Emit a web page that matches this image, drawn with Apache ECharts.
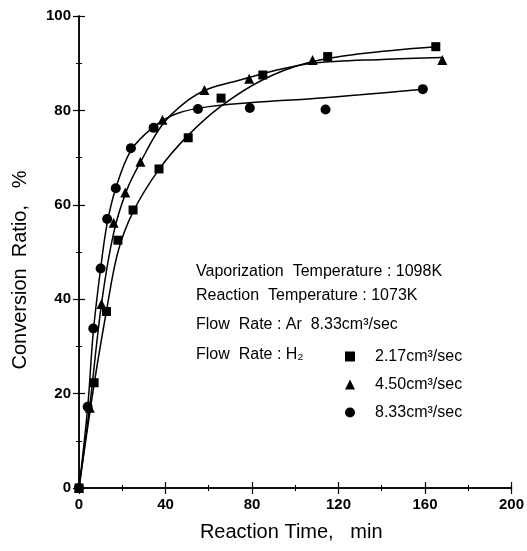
<!DOCTYPE html>
<html>
<head>
<meta charset="utf-8">
<script src="https://cdn.jsdelivr.net/npm/echarts@6/dist/echarts.min.js"></script>
<style>
	html, body { margin: 0; padding: 0; background: #fff; }
	#chart { width: 527px; height: 551px; }
</style>
</head>
<body>
<div id="chart"></div>
<script>
// measured points, [time min, conversion %]
var square_pts = [[0, 0], [7, 22.3], [12.7, 37.4], [18, 52.5], [25, 58.9], [37, 67.6], [50.5, 74.2], [65.7, 82.6], [85, 87.5], [115, 91.4], [165, 93.5]]
var triangle_pts = [[0, 0], [5, 17], [10.4, 39], [16, 56.2], [21.4, 62.6], [28.4, 69.1], [38.6, 78], [58, 84.3], [78.7, 86.7], [108, 90.7], [168, 90.7]]
var circle_pts = [[0, 0], [4, 17.2], [6.6, 33.8], [10, 46.5], [13, 57], [17, 63.5], [24, 72], [34.5, 76.3], [55, 80.3], [79, 80.5], [114, 80.2], [159, 84.5]]

// fitted curves
var square_fit = [[0, 0], [7, 22], [12.7, 37.5], [18, 50], [25, 58.5], [37, 67.5], [50, 74.5], [66, 81], [85, 86.5], [105, 90], [130, 92], [165, 93.5]]
var triangle_fit = [[0, 0], [5, 17.5], [10.4, 39], [16, 54], [22, 63], [28.4, 69], [38.6, 77], [50, 82], [60, 84.6], [75, 86.5], [92, 88.6], [108, 90], [140, 90.8], [168, 91.2]]
var circle_fit = [[0, 0], [4, 17], [6.6, 33], [10, 46.5], [13, 56], [17, 63.5], [24, 71.5], [34.5, 76.5], [45, 79.3], [60, 80.8], [90, 82], [106, 82.4], [130, 83.3], [159, 84.5]]

var x_ticks = [0, 40, 80, 120, 160, 200]
var y_ticks = [0, 20, 40, 60, 80, 100]

var rates = ['2.17cm³/sec', '4.50cm³/sec', '8.33cm³/sec']
var notes = ['Vaporization  Temperature : 1098K', 'Reaction  Temperature : 1073K', 'Flow  Rate : Ar  8.33cm³/sec', 'Flow  Rate : H₂']
var y_title = 'Conversion  Ratio,   %'

var font = 'Liberation Sans, Arial, sans-serif'
var chart = echarts.init(document.getElementById('chart'))

function frame_axis (pos, extra) {
	var a = {
		type: 'value',
		position: pos,
		axisLine: { show: true, lineStyle: { color: '#000', width: 1.5 } },
		axisTick: { show: true, inside: true, length: 6, lineStyle: { color: '#000', width: 1.2 } },
		minorTick: { show: true, splitNumber: 2, length: 3, lineStyle: { color: '#000', width: 1 } },
		splitLine: { show: false },
		axisLabel: { show: false }
	}
	return Object.assign(a, extra)
}

function fit_series (data) {
	return {
		type: 'line',
		data: data,
		smooth: 0.35,
		showSymbol: false,
		silent: true,
		lineStyle: { color: '#000', width: 1.5 },
		xAxisIndex: 0,
		yAxisIndex: 0
	}
}

function point_series (name, data, symbol, size) {
	return {
		name: name,
		type: 'scatter',
		data: data,
		symbol: symbol,
		symbolSize: size,
		itemStyle: { color: '#000', opacity: 1 },
		xAxisIndex: 0,
		yAxisIndex: 0,
		z: 5
	}
}

var label_style = { color: '#000', fontFamily: font, fontSize: 15, fontWeight: 'bold' }

var notes_graphic = notes.map(function (t, i) {
	var ys = [264, 288, 317, 347]
	return {
		type: 'text',
		left: 196,
		top: ys[i],
		style: { text: t, fill: '#000', font: '16px ' + font }
	}
})

// y title sits a bit below the plot middle in the original
notes_graphic.push({
	type: 'text',
	x: 20,
	y: 270,
	rotation: Math.PI / 2,
	style: { text: y_title, fill: '#000', font: '20px ' + font, align: 'center', verticalAlign: 'middle' }
})

var option = {
	animation: false,
	backgroundColor: '#fff',
	grid: { left: 79, right: 11, top: 16, bottom: 63 },
	xAxis: [
		frame_axis('bottom', {
			min: x_ticks[0], max: x_ticks[x_ticks.length - 1], interval: 40,
			name: 'Reaction Time,   min', nameLocation: 'middle', nameGap: 34,
			nameTextStyle: { color: '#000', fontFamily: font, fontSize: 20, padding: [0, 8, 0, 0] },
			axisLabel: Object.assign({ show: true, margin: 9 }, label_style)
		}),
		frame_axis('top', { min: 0, max: 200, interval: 40 })
	],
	yAxis: [
		frame_axis('left', {
			min: y_ticks[0], max: y_ticks[y_ticks.length - 1], interval: 20,
			axisLabel: Object.assign({ show: true, margin: 8 }, label_style)
		}),
		frame_axis('right', { min: 0, max: 100, interval: 20 })
	],
	legend: {
		orient: 'vertical',
		left: 340,
		top: 343,
		itemGap: 11,
		itemWidth: 10,
		itemHeight: 10,
		textStyle: { color: '#000', fontFamily: font, fontSize: 16, lineHeight: 17, padding: [0, 0, 0, 15] },
		data: [
			{ name: rates[0], icon: 'rect' },
			{ name: rates[1], icon: 'triangle' },
			{ name: rates[2], icon: 'circle' }
		]
	},
	graphic: notes_graphic,
	series: [
		fit_series(square_fit),
		fit_series(triangle_fit),
		fit_series(circle_fit),
		point_series(rates[0], square_pts, 'rect', 9),
		point_series(rates[1], triangle_pts, 'triangle', 10),
		point_series(rates[2], circle_pts, 'circle', 10)
	]
}

chart.setOption(option)
</script>
</body>
</html>
